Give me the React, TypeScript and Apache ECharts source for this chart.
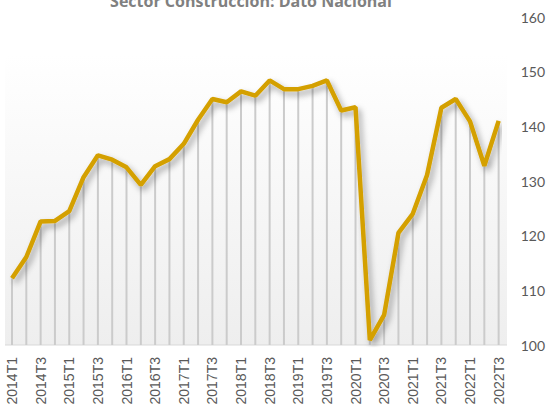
import React, { useEffect, useRef } from "react";
import * as echarts from "echarts";

const categories = [
  "2014T1", "2014T2", "2014T3", "2014T4",
  "2015T1", "2015T2", "2015T3", "2015T4",
  "2016T1", "2016T2", "2016T3", "2016T4",
  "2017T1", "2017T2", "2017T3", "2017T4",
  "2018T1", "2018T2", "2018T3", "2018T4",
  "2019T1", "2019T2", "2019T3", "2019T4",
  "2020T1", "2020T2", "2020T3", "2020T4",
  "2021T1", "2021T2", "2021T3", "2021T4",
  "2022T1", "2022T2", "2022T3",
];

const values = [
  112.2, 116.1, 122.6, 122.7,
  124.5, 130.7, 134.7, 133.9,
  132.5, 129.3, 132.7, 134.0,
  136.8, 141.2, 145.0, 144.4,
  146.4, 145.6, 148.4, 146.8,
  146.8, 147.4, 148.4, 142.9,
  143.5, 100.9, 105.5, 120.5,
  124.0, 131.1, 143.4, 145.0,
  140.9, 132.8, 141.0,
];

const yMin = 100;
const yMax = 160;
const yStep = 10;

const titleText = "Sector Construcción: Dato Nacional";

export default function App() {
  const ref = useRef<HTMLDivElement>(null);

  useEffect(() => {
    if (!ref.current) return;
    const chart = echarts.init(ref.current, undefined, { renderer: "svg" });
    chart.setOption({
      animation: false,
      backgroundColor: "#ffffff",
      grid: { left: 12, right: 48, top: 17, bottom: 68, containLabel: false },
      graphic: [
        {
          type: "rect",
          z: -10,
          silent: true,
          shape: { x: 5, y: 55, width: 502, height: 290 },
          style: {
            fill: new echarts.graphic.LinearGradient(0, 0, 0, 1, [
              { offset: 0, color: "#ffffff" },
              { offset: 1, color: "#eeeeee" },
            ]),
          },
        },
        {
          type: "line",
          z: -9,
          silent: true,
          shape: { x1: 5, y1: 345, x2: 507, y2: 345 },
          style: { stroke: "#d9d9d9", lineWidth: 1 },
        },
        {
          type: "text",
          x: 251,
          y: 9,
          style: {
            text: titleText,
            fill: "#808080",
            font: "bold 16px 'Open Sans'",
            textAlign: "center",
            textVerticalAlign: "bottom",
          },
        },
      ],
      xAxis: {
        type: "category",
        data: categories,
        boundaryGap: false,
        axisLine: { show: false },
        axisTick: { show: false },
        splitLine: { show: false },
        axisLabel: {
          interval: 1,
          rotate: 90,
          margin: 12,
          color: "#595959",
          fontSize: 14,
          fontFamily: "Liberation Sans",
        },
      },
      yAxis: {
        type: "value",
        position: "right",
        min: yMin,
        max: yMax,
        interval: yStep,
        axisLine: { show: false },
        axisTick: { show: false },
        splitLine: { show: false },
        axisLabel: {
          margin: 22,
          color: "#595959",
          fontSize: 14,
          fontFamily: "Lato",
        },
      },
      series: [
        {
          type: "bar",
          data: values,
          barWidth: 2,
          itemStyle: { color: "#cbcbcb" },
          silent: true,
          z: 1,
        },
        {
          type: "line",
          data: values,
          showSymbol: false,
          symbol: "none",
          z: 3,
          lineStyle: {
            color: "#d4a000",
            width: 4.5,
            shadowColor: "rgba(0,0,0,0.35)",
            shadowBlur: 6,
            shadowOffsetX: 3,
            shadowOffsetY: 4,
          },
        },
      ],
    });
    return () => chart.dispose();
  }, []);

  return (
    <div
      ref={ref}
      style={{ position: "fixed", left: 0, top: 0, width: 548, height: 413 }}
    />
  );
}
